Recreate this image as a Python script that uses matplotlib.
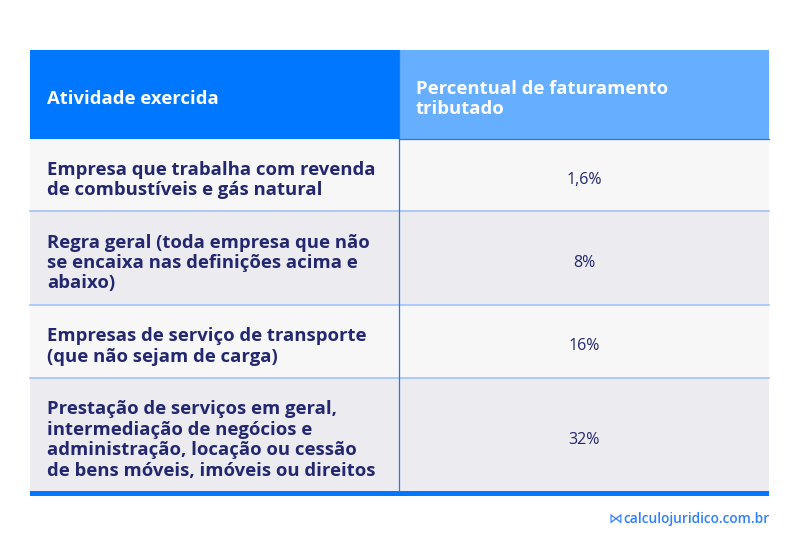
import matplotlib
matplotlib.use('Agg')
import matplotlib.pyplot as plt
from matplotlib.patches import Rectangle

# Table content
header_left = 'Atividade exercida'
header_right = 'Percentual de faturamento\ntributado'
activities = [
    'Empresa que trabalha com revenda\nde combustíveis e gás natural',
    'Regra geral (toda empresa que não\nse encaixa nas definições acima e\nabaixo)',
    'Empresas de serviço de transporte\n(que não sejam de carga)',
    'Prestação de serviços em geral,\nintermediação de negócios e\nadministração, locação ou cessão\nde bens móveis, imóveis ou direitos',
]
percentages = ['1,6%', '8%', '16%', '32%']
footer = 'calculojuridico.com.br'

# Layout in pixels
LEFT, MID, RIGHT = 30, 399, 769
HEAD_TOP, HEAD_BOT = 50, 139
row_edges = [139, 211, 305, 378, 492]

NAVY = '#23276f'
row_colors = ['#f7f7f7', '#ececf0', '#f7f7f7', '#ececf0']
FONT = 'Open Sans'
FS = 13.3

fig = plt.figure(figsize=(8, 5.57), dpi=100)
ax = fig.add_axes([0, 0, 1, 1])
ax.set_xlim(0, 800)
ax.set_ylim(557, 0)
ax.axis('off')

# Header
ax.add_patch(Rectangle((LEFT, HEAD_TOP), MID - LEFT, HEAD_BOT - HEAD_TOP, color='#0077ff', lw=0))
ax.add_patch(Rectangle((MID, HEAD_TOP), RIGHT - MID, HEAD_BOT - HEAD_TOP, color='#66aeff', lw=0))
ax.text(47, (HEAD_TOP + HEAD_BOT) / 2 + 4.5, header_left, color='white', fontsize=FS,
        fontweight='bold', family=FONT, va='center', ha='left')
ax.text(416, (HEAD_TOP + HEAD_BOT) / 2 + 4.5, header_right, color='white', fontsize=FS,
        fontweight='bold', family=FONT, va='center', ha='left', linespacing=1.17)

# Body rows
for i, (act, pct) in enumerate(zip(activities, percentages)):
    top, bot = row_edges[i], row_edges[i + 1]
    ax.add_patch(Rectangle((LEFT, top), RIGHT - LEFT, bot - top, color=row_colors[i], lw=0))
    yc = (top + bot) / 2
    ax.text(47, yc + 5, act, color=NAVY, fontsize=FS, fontweight='bold', family=FONT,
            va='center', ha='left', linespacing=1.17)
    ax.text((MID + RIGHT) / 2, yc + 5, pct, color=NAVY, fontsize=11.5, family=FONT,
            va='center', ha='center')
    if i < len(activities) - 1:
        ax.plot([LEFT, RIGHT], [bot, bot], color='#a3c2ff', lw=1.2)

# Column divider and bottom bar
ax.plot([MID, MID], [HEAD_TOP, row_edges[-1]], color='#1f7af0', lw=0.9)
ax.plot([MID, RIGHT], [HEAD_BOT, HEAD_BOT], color='#1f7af0', lw=0.9)
ax.add_patch(Rectangle((LEFT, row_edges[-1] - 1), RIGHT - LEFT, 4.5, color='#0077ff', lw=0))

# Footer
ax.text(609, 519, '⋈', color='#2f80ff', fontsize=10, family='DejaVu Sans', va='center', ha='left')
ax.text(623, 519, footer, color='#2f80ff', fontsize=9.9, family=FONT, fontweight='semibold',
        va='center', ha='left')

fig.savefig('out.png', dpi=100)
